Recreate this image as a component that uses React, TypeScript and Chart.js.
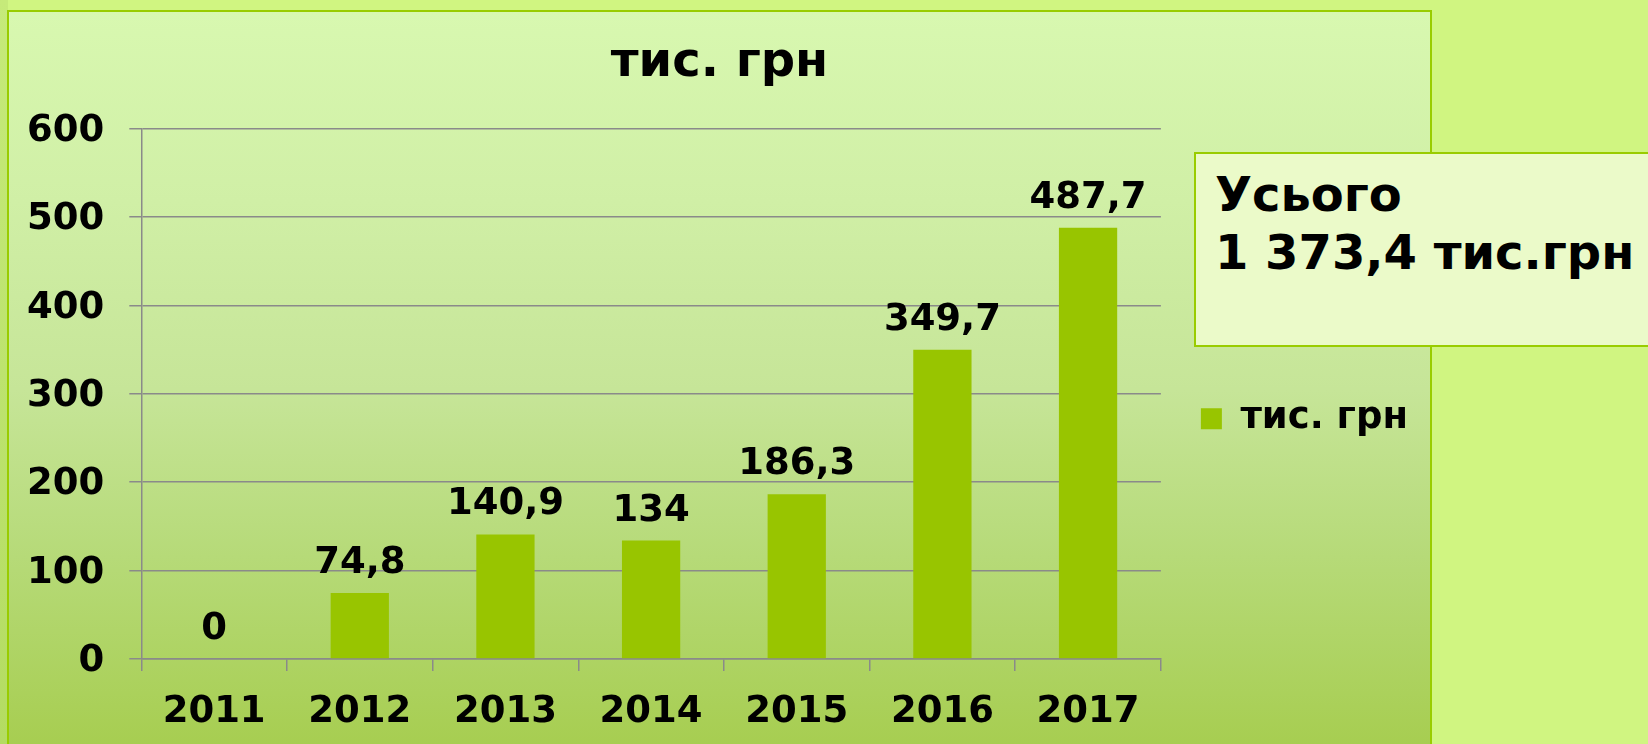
import React, { useEffect, useRef } from "react";
import { Chart, registerables } from "chart.js";

Chart.register(...registerables);

const categories: string[] = ["2011", "2012", "2013", "2014", "2015", "2016", "2017"];
const values: number[] = [0, 74.8, 140.9, 134, 186.3, 349.7, 487.7];
const seriesName = "тис. грн";
const chartTitle = "тис. грн";
const yMin = 0;
const yMax = 600;
const yStep = 100;
const totalLines: string[] = ["Усього", "1 373,4 тис.грн"];

const FONT = '"DejaVu Sans", Verdana, sans-serif';
const BAR = "#98c500";
const GRID = "#8a8a8a";

const fmt = (v: number) => String(v).replace(".", ",");

const valueLabels = {
  id: "valueLabels",
  afterDatasetsDraw(chart: any) {
    const ctx = chart.ctx;
    const meta = chart.getDatasetMeta(0);
    ctx.save();
    ctx.font = `bold 37px ${FONT}`;
    ctx.fillStyle = "#000";
    ctx.textAlign = "center";
    ctx.textBaseline = "alphabetic";
    meta.data.forEach((bar: any, i: number) => {
      const p = bar.getProps(["x", "y"], true);
      ctx.fillText(fmt(values[i]), p.x, p.y - 20);
    });
    ctx.restore();
  },
};

export default function App() {
  const ref = useRef<HTMLCanvasElement | null>(null);

  useEffect(() => {
    document.body.style.margin = "0";
    if (!ref.current) return;
    const chart = new Chart(ref.current, {
      type: "bar",
      data: {
        labels: categories,
        datasets: [
          {
            label: seriesName,
            data: values,
            backgroundColor: BAR,
            borderWidth: 0,
            barPercentage: 0.4,
            categoryPercentage: 1,
          },
        ],
      },
      options: {
        responsive: false,
        animation: false,
        layout: { padding: { left: 12, right: 12, top: 0, bottom: 17.6 } },
        plugins: {
          title: {
            display: true,
            text: chartTitle,
            color: "#000",
            font: { family: FONT, size: 48, weight: "bold" },
            padding: { top: 23, bottom: 36 },
          },
          legend: {
            display: true,
            position: "right",
            title: {
              display: true,
              text: " ",
              color: "rgba(0,0,0,0)",
              font: { family: FONT, size: 11, lineHeight: 1 },
              padding: { top: 60, bottom: 0 },
            },
            labels: {
              color: "#000",
              font: { family: FONT, size: 37, weight: "bold" },
              boxWidth: 21,
              boxHeight: 21,
              padding: 40,
            },
          },
          tooltip: { enabled: false },
        },
        scales: {
          x: {
            grid: {
              drawOnChartArea: false,
              drawTicks: true,
              tickLength: 12,
              color: GRID,
              lineWidth: 1.5,
              offset: true,
            },
            border: { color: GRID, width: 1.5 },
            ticks: {
              color: "#000",
              font: { family: FONT, size: 37, weight: "bold" },
              padding: 19.5,
            },
          },
          y: {
            min: yMin,
            max: yMax,
            afterFit: (scale: any) => {
              scale.width = 120.3;
            },
            grid: { color: GRID, lineWidth: 1.5, tickLength: 12 },
            border: { color: GRID, width: 1.5 },
            ticks: {
              stepSize: yStep,
              color: "#000",
              font: { family: FONT, size: 37, weight: "bold" },
              padding: 25,
              labelOffset: 2.5,
            },
          },
        },
      },
      plugins: [valueLabels],
    });
    return () => chart.destroy();
  }, []);

  return (
    <div
      style={{
        position: "fixed",
        left: 0,
        top: 0,
        width: 1648,
        height: 744,
        overflow: "hidden",
        background: "#d0f581",
        fontFamily: FONT,
      }}
    >
      <div
        style={{
          position: "absolute",
          left: 0,
          top: 0,
          width: 8,
          height: 744,
          background: "linear-gradient(180deg, #c6ea7a 0%, #b4dc62 100%)",
        }}
      />
      <div
        style={{
          position: "absolute",
          left: 7,
          top: 10,
          width: 1425,
          height: 760,
          boxSizing: "border-box",
          border: "2px solid #99cc00",
          background:
            "linear-gradient(180deg, #d8f8b0 0%, #d0efa6 25%, #c6e598 50%, #b6da78 72%, #a5cc4c 100%)",
        }}
      />
      <canvas
        ref={ref}
        width={1421}
        height={760}
        style={{ position: "absolute", left: 9, top: 12, width: 1421, height: 760 }}
      />
      <div
        style={{
          position: "absolute",
          left: 1194,
          top: 152,
          width: 480,
          height: 195,
          boxSizing: "border-box",
          border: "2px solid #99cc00",
          background: "#ebfac9",
          padding: "11px 0 0 19px",
          fontWeight: "bold",
          fontSize: 48,
          lineHeight: "58px",
          color: "#000",
          whiteSpace: "nowrap",
        }}
      >
        {totalLines.map((t, i) => (
          <div key={i}>{t}</div>
        ))}
      </div>
    </div>
  );
}
